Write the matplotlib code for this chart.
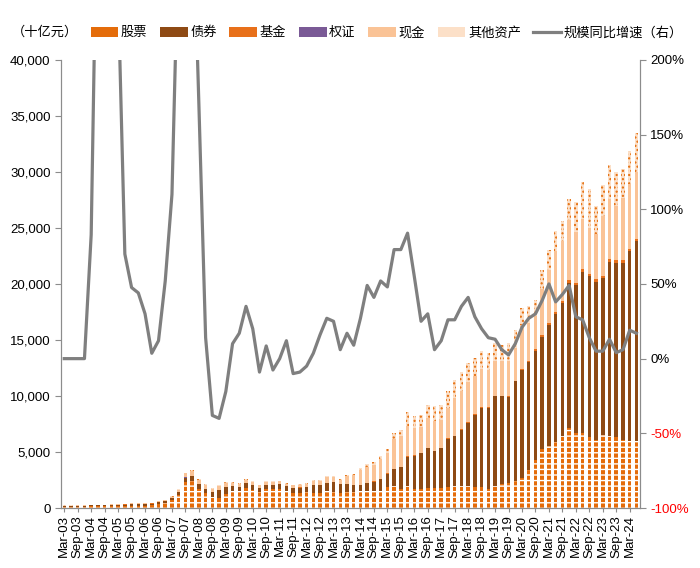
import matplotlib
matplotlib.use('Agg')
import matplotlib.pyplot as plt
from matplotlib.patches import Patch
from matplotlib.lines import Line2D
from matplotlib.ticker import FuncFormatter

plt.rcParams['font.family'] = ['Liberation Sans', 'Noto Sans CJK SC', 'DejaVu Sans']
plt.rcParams['hatch.linewidth'] = 1.0

# quarterly data, Mar-03 .. Jun-24 (unit: 十亿元)
stock = [130, 130, 135, 135, 170, 170, 160, 160, 170, 170, 180, 180, 220, 250, 340, 480,
         700, 1150, 2350, 2450, 1700, 1300, 1000, 850, 1250, 1500, 1550, 1800,
         1650, 1450, 1700, 1700, 1700, 1550, 1350, 1300, 1400, 1350, 1300, 1500, 1450, 1300, 1450, 1400, 1500, 1500, 1500, 1550,
         1850, 2000, 1700, 2000, 1700, 1700, 1750, 1800, 1800, 1850, 1950, 1950, 1950, 1900, 1850, 1700, 1950, 2100, 2200,
         2400, 2700, 3400, 4300, 5300, 5500, 5900, 6400, 7100, 6700, 6700, 6300, 6100, 6500, 6400, 6300, 6100, 6000, 6000]
bond = [70, 70, 75, 75, 85, 95, 100, 115, 120, 140, 170, 180, 170, 150, 160, 160,
        200, 250, 350, 400, 400, 400, 450, 750, 600, 450, 350, 400,
        400, 350, 380, 380, 420, 400, 450, 520, 500, 700, 750, 700, 900, 800, 700, 650, 550, 700, 850, 1000,
        1220, 1480, 1960, 2580, 2970, 3200, 3600, 3260, 3560, 4310, 4450, 5050, 5640, 6430, 7080, 7230, 8020, 7870, 7700,
        8900, 9600, 9600, 9700, 10000, 10800, 11400, 11900, 13000, 13200, 14400, 14400, 14100, 14000, 15600, 15600, 15800, 16900, 17800]
fund = [0, 0, 0, 0, 5, 5, 5, 5, 5, 5, 5, 5, 5, 5, 10, 10,
        10, 15, 20, 20, 20, 20, 15, 15, 15, 15, 15, 15,
        15, 15, 15, 15, 15, 15, 15, 15, 15, 15, 15, 15, 15, 15, 15, 15, 20, 20, 20, 20,
        30, 40, 40, 40, 40, 40, 40, 40, 40, 50, 50, 50, 50, 50, 50, 50, 60, 60, 60,
        80, 100, 120, 150, 180, 200, 220, 220, 220, 220, 220, 200, 200, 200, 200, 200, 200, 220, 220]
warrant = [0, 0, 0, 0, 0, 0, 0, 0, 0, 2, 3, 3, 4, 4, 5, 5,
           8, 10, 12, 10, 8, 5, 3, 2, 0, 0, 0, 0,
           0, 0, 0, 0, 0, 0, 0, 0, 0, 0, 0, 0, 0, 0, 0, 0, 0, 0, 0, 0,
           0, 0, 0, 0, 0, 0, 0, 0, 0, 0, 0, 0, 0, 0, 0, 0, 0, 0, 0,
           0, 0, 0, 0, 0, 0, 0, 0, 0, 0, 0, 0, 0, 0, 0, 0, 0, 0, 0]
cash = [20, 20, 20, 20, 25, 25, 30, 35, 40, 50, 55, 55, 55, 55, 70, 80,
        100, 180, 350, 400, 350, 300, 270, 350, 370, 280, 250, 330,
        270, 230, 240, 240, 250, 220, 220, 250, 260, 340, 340, 520, 380, 400, 650, 850, 1350, 1450, 1500, 1800,
        1800, 2680, 2700, 2680, 2390, 2260, 2610, 2700, 2470, 2690, 3360, 3350, 3610, 3420, 3420, 3360, 3100, 3050, 3170,
        2920, 3960, 3390, 2950, 4100, 4770, 5390, 5280, 5420, 4480, 4460, 4130, 4040, 5390, 5360, 4900, 5570, 5790, 5960]
other = [10, 10, 10, 10, 10, 10, 10, 10, 10, 10, 15, 15, 15, 15, 20, 20,
         40, 50, 75, 110, 80, 80, 70, 70, 70, 60, 50, 70,
         60, 50, 60, 60, 70, 60, 60, 70, 70, 80, 80, 110, 100, 90, 120, 140, 170, 220, 230, 260,
         400, 500, 600, 1300, 1100, 1100, 1200, 1300, 1300, 1500, 1600, 1700, 1700, 1600, 1600, 1500, 1600, 1500, 1600,
         1600, 1500, 1500, 1500, 1700, 1800, 1800, 1800, 1800, 2700, 3300, 3400, 2500, 2700, 3100, 3000, 2600, 3000, 3500]
# 规模同比增速 (%)
growth = [0, 0, 0, 0, 83, 350, 600, 500, 246, 70, 47.6, 44, 30, 3.6, 12, 52,
          110, 290, 420, 320, 170, 14, -38, -40, -22, 10, 17, 35,
          20, -9, 8.5, -7.6, 0, 12, -10, -9, -5, 3.6, 16, 27, 25, 6, 17, 9, 27, 49, 41, 52,
          48, 73, 73, 84, 55, 25, 30, 6, 12, 26, 26, 35, 41, 28, 20, 14, 13, 6, 2.5,
          10, 21, 27, 30, 39, 50, 38, 43, 49, 28, 26, 14, 5, 5, 13, 4, 6, 19, 17]

tick_labels = ['Mar-03', 'Sep-03', 'Mar-04', 'Sep-04', 'Mar-05', 'Sep-05', 'Mar-06', 'Sep-06',
               'Mar-07', 'Sep-07', 'Mar-08', 'Sep-08', 'Mar-09', 'Sep-09', 'Mar-10', 'Sep-10',
               'Mar-11', 'Sep-11', 'Mar-12', 'Sep-12', 'Mar-13', 'Sep-13', 'Mar-14', 'Sep-14',
               'Mar-15', 'Sep-15', 'Mar-16', 'Sep-16', 'Mar-17', 'Sep-17', 'Mar-18', 'Sep-18',
               'Mar-19', 'Sep-19', 'Mar-20', 'Sep-20', 'Mar-21', 'Sep-21', 'Mar-22', 'Sep-22',
               'Mar-23', 'Sep-23', 'Mar-24']

x = list(range(len(stock)))

fig = plt.figure(figsize=(7, 5.68), dpi=100)
ax = fig.add_axes([0.087, 0.1056, 0.827, 0.789])

orange = '#E46C0A'
w = 0.52
bottom = [0] * len(x)
series = [
    ('股票', stock, dict(color=orange, edgecolor='white', hatch='---')),
    ('债券', bond, dict(color='#8E4A14')),
    ('基金', fund, dict(color='#E8701A')),
    ('权证', warrant, dict(color='#7A5A96')),
    ('现金', cash, dict(color='#FAC396')),
    ('其他资产', other, dict(color='#FCE0C8', edgecolor=orange, hatch='....')),
]
handles = []
for name, vals, style in series:
    ax.bar(x, vals, w, bottom=bottom, linewidth=0, **style)
    bottom = [b + v for b, v in zip(bottom, vals)]
    handles.append(Patch(linewidth=0, label=name, **style))

ax.set_xlim(-0.5, len(x) - 0.5)
ax.set_ylim(0, 40000)
ax.set_yticks(range(0, 40001, 5000))
ax.yaxis.set_major_formatter(FuncFormatter(lambda v, p: f'{int(v):,}'))
ax.set_xticks(x[::2])
ax.set_xticklabels(tick_labels, rotation=90, fontsize=9.5)
ax.tick_params(axis='y', labelsize=9.5, length=4, color='#8C8C8C')
ax.tick_params(axis='x', length=3, color='#8C8C8C', pad=2)
ax.spines['top'].set_visible(False)
for s in ['left', 'right', 'bottom']:
    ax.spines[s].set_color('#8C8C8C')

ax2 = ax.twinx()
ax2.plot(x, growth, color='#7F7F7F', linewidth=2.3)
ax2.set_ylim(-100, 200)
ax2.set_yticks(range(-100, 201, 50))
ax2.set_yticklabels([f'{v}%' for v in range(-100, 201, 50)])
for lbl, v in zip(ax2.get_yticklabels(), range(-100, 201, 50)):
    lbl.set_color('#FF0000' if v < 0 else 'black')
ax2.tick_params(axis='y', labelsize=9.5, length=4, color='#8C8C8C')
ax2.spines['top'].set_visible(False)
for s in ['left', 'right', 'bottom']:
    ax2.spines[s].set_color('#8C8C8C')

handles.append(Line2D([], [], color='#7F7F7F', linewidth=2.3, label='规模同比增速（右）'))
fig.text(0.017, 0.942, '（十亿元）', fontsize=9.5, va='center')
fig.legend(handles=handles, loc='center left', bbox_to_anchor=(0.122, 0.942), ncol=7,
           frameon=False, fontsize=9.5, handlelength=2.1, handleheight=0.75,
           handletextpad=0.2, columnspacing=0.95, borderaxespad=0)

fig.savefig('out.png', dpi=100)
